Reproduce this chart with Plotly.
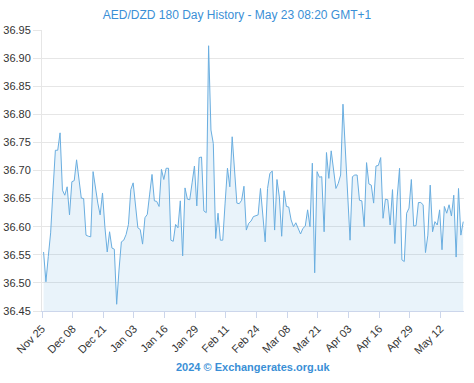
import pandas as pd
import plotly.graph_objects as go

start_date = "2023-11-25 16:00"
rates = [
    36.555, 36.502, 36.547, 36.589, 36.665, 36.736, 36.736, 36.767, 36.665, 36.656,
    36.671, 36.621, 36.680, 36.682, 36.719, 36.683, 36.651, 36.650, 36.585, 36.583,
    36.582, 36.698, 36.665, 36.642, 36.621, 36.660, 36.600, 36.555, 36.591, 36.562,
    36.560, 36.462, 36.523, 36.573, 36.576, 36.586, 36.604, 36.666, 36.678, 36.637,
    36.598, 36.595, 36.569, 36.616, 36.622, 36.658, 36.693, 36.646, 36.645, 36.636,
    36.702, 36.684, 36.704, 36.704, 36.576, 36.574, 36.604, 36.598, 36.646, 36.548,
    36.669, 36.649, 36.648, 36.678, 36.708, 36.637, 36.723, 36.724, 36.628, 36.625,
    36.922, 36.772, 36.748, 36.579, 36.624, 36.576, 36.576, 36.642, 36.704, 36.671,
    36.760, 36.701, 36.642, 36.641, 36.647, 36.672, 36.594, 36.606, 36.610, 36.618,
    36.619, 36.621, 36.668, 36.624, 36.573, 36.668, 36.695, 36.699, 36.594, 36.684,
    36.653, 36.583, 36.664, 36.636, 36.635, 36.612, 36.600, 36.607, 36.597, 36.587,
    36.597, 36.601, 36.630, 36.600, 36.713, 36.518, 36.698, 36.688, 36.689, 36.591,
    36.732, 36.686, 36.735, 36.701, 36.668, 36.677, 36.692, 36.818, 36.736, 36.647,
    36.576, 36.689, 36.692, 36.692, 36.647, 36.646, 36.600, 36.714, 36.676, 36.674,
    36.642, 36.708, 36.709, 36.723, 36.615, 36.649, 36.648, 36.603, 36.666, 36.570,
    36.653, 36.704, 36.541, 36.538, 36.624, 36.633, 36.684, 36.601, 36.602, 36.643,
    36.643, 36.639, 36.554, 36.585, 36.674, 36.591, 36.609, 36.603, 36.630, 36.559,
    36.636, 36.624, 36.639, 36.619, 36.656, 36.546, 36.668, 36.585, 36.609,
]
tick_dates = ["2023-11-25", "2023-12-08", "2023-12-21", "2024-01-03", "2024-01-16",
              "2024-01-29", "2024-02-11", "2024-02-24", "2024-03-08", "2024-03-21",
              "2024-04-03", "2024-04-16", "2024-04-29", "2024-05-12"]
tick_labels = ["Nov 25", "Dec 08", "Dec 21", "Jan 03", "Jan 16", "Jan 29", "Feb 11",
               "Feb 24", "Mar 08", "Mar 21", "Apr 03", "Apr 16", "Apr 29", "May 12"]
y_ticks = [36.45, 36.50, 36.55, 36.60, 36.65, 36.70, 36.75, 36.80, 36.85, 36.90, 36.95]

dates = pd.date_range(start=start_date, periods=len(rates), freq="D")

fig = go.Figure()
fig.add_trace(go.Scatter(
    x=dates, y=rates, mode="lines",
    line=dict(color="#6aaee0", width=1),
    fill="tozeroy", fillcolor="rgba(106,174,224,0.15)",
    hoverinfo="x+y",
))

fig.update_layout(
    width=474, height=383,
    margin=dict(l=42, r=10, t=30, b=72),
    paper_bgcolor="white", plot_bgcolor="white",
    showlegend=False,
    font=dict(family="Liberation Sans, Arial, sans-serif", size=11, color="#333333"),
    title=dict(text="AED/DZD 180 Day History - May 23 08:20 GMT+1",
               x=0.5, xanchor="center", y=0.961, yanchor="middle",
               font=dict(size=12, color="#3a8fd6")),
    annotations=[
        dict(text="<b>2024 © Exchangerates.org.uk</b>",
             xref="paper", yref="paper", x=0.5, xanchor="center",
             y=-0.2, yanchor="middle", showarrow=False,
             font=dict(size=11, color="#3a8fd6"))],
)
fig.update_xaxes(
    range=["2023-11-25", "2024-05-22"], automargin=False,
    tickvals=tick_dates, ticktext=tick_labels, tickangle=-45,
    showgrid=False, showline=True, linecolor="#ccd6eb", linewidth=1,
    ticks="outside", ticklen=6, tickcolor="#ccd6eb",
    tickfont=dict(size=11, color="#333333"),
)
fig.update_yaxes(
    range=[36.45, 36.95], automargin=False,
    tickvals=y_ticks, ticktext=[f"{v:.2f}" for v in y_ticks],
    showgrid=True, gridcolor="#e6e6e6", zeroline=False,
    showline=True, linecolor="#e6e6e6",
    ticks="outside", ticklen=8, tickcolor="#e6e6e6",
    tickfont=dict(size=11, color="#333333"),
)

# remove the browser's default 8px body margin so the figure sits at the window origin
fig.write_html("out.html", config={"displayModeBar": False},
               post_script="document.body.style.margin='0';")
